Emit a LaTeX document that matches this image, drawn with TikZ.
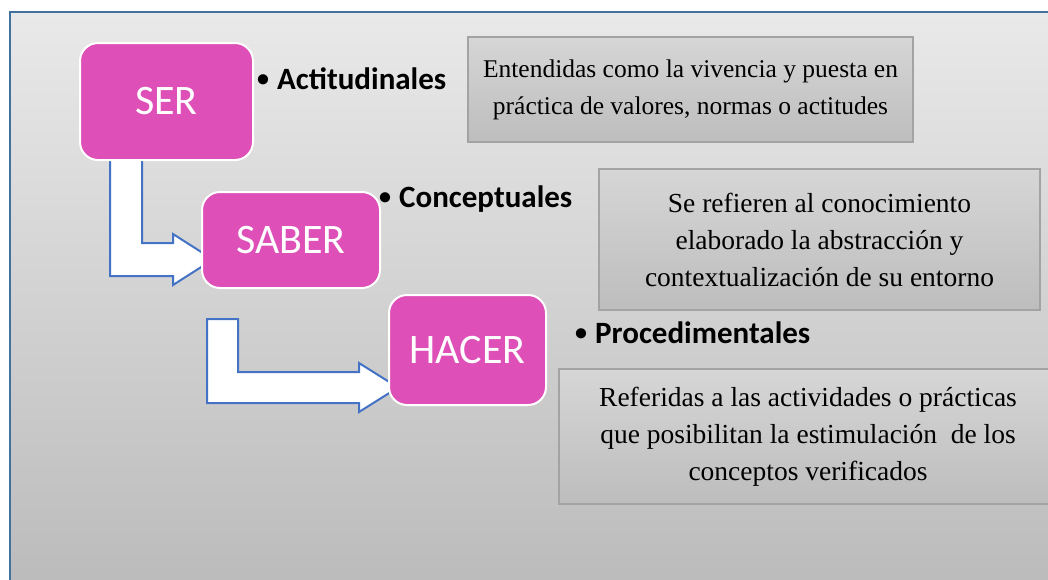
\documentclass[tikz,border=0pt]{standalone}
\usepackage{fontspec}
\setmainfont{Liberation Serif}
\newfontfamily\calibri{Carlito}
\usetikzlibrary{positioning}
\pgfdeclarelayer{backdrop}
\pgfdeclarelayer{background}
\pgfsetlayers{backdrop,background,main}

\definecolor{levelpink}{RGB}{222,80,184}
\definecolor{arrowblue}{RGB}{68,114,196}
\definecolor{frameblue}{RGB}{65,113,156}
\definecolor{frametop}{RGB}{233,233,233}
\definecolor{framebot}{RGB}{186,186,186}
\definecolor{boxtop}{RGB}{214,214,214}
\definecolor{boxbot}{RGB}{189,189,189}
\definecolor{boxline}{RGB}{163,163,163}

\newcommand{\kinddot}{\makebox[20pt][l]{\raisebox{2.5pt}{\fontsize{24}{24}\selectfont\textbullet}}}

\tikzstyle{level} = [rectangle, rounded corners=18pt, draw=white, line width=2pt, fill=levelpink, text=white, font=\calibri\fontsize{42}{50}\selectfont]
\tikzstyle{kind} = [anchor=base west, inner sep=0pt, font=\calibri\bfseries\fontsize{31}{37}\selectfont]
\tikzstyle{desc} = [rectangle, draw=boxline, line width=1.2pt, top color=boxtop, bottom color=boxbot, align=center, font=\fontsize{27.5}{37}\selectfont]
\tikzstyle{bigarrow} = [draw=arrowblue, fill=white, line width=2pt, line join=miter]

\begin{document}
\begin{tikzpicture}[x=1pt, y=-1pt]
\useasboundingbox (0,0) rectangle (1048,579);
\clip (0,0) rectangle (1048,579);

\node (ser) [level, minimum width=173pt, minimum height=117pt] at (166.5,101.5) {SER};
\node (saber) [level, minimum width=178pt, minimum height=96pt] at (291,240) {SABER};
\node (hacer) [level, minimum width=157pt, minimum height=110pt] at (467.5,350) {HACER};

\node (act) [kind] at (257,89) {\kinddot Actitudinales};
\node (con) [kind] at (379,207) {\kinddot Conceptuales};
\node (proc) [kind] at (575,343) {\kinddot Procedimentales};

\node (dact) [desc, font=\fontsize{25.5}{37}\selectfont, minimum width=445pt, minimum height=105pt] at (690.5,89.5) {Entendidas como la vivencia y puesta en\\ práctica de valores, normas o actitudes};
\node (dcon) [desc, minimum width=441pt, minimum height=141pt] at (819.5,239.5) {Se refieren al conocimiento\\ elaborado la abstracción y\\ contextualización de su entorno};
\node (dproc) [desc, minimum width=498pt, minimum height=135pt] at (808,436.5) {Referidas a las actividades o prácticas\\ que posibilitan la estimulación~ de los\\ conceptos verificados};

\begin{pgfonlayer}{backdrop}
\shade [top color=frametop, bottom color=framebot] (10,12) rectangle (1070,600);
\draw [frameblue, line width=2.5pt] (10,12) rectangle (1070,600);
\end{pgfonlayer}

% bent arrows, tips hidden under the boxes
\begin{pgfonlayer}{background}
\filldraw [bigarrow] ([xshift=63pt]ser.south west) -- ++(0,82) -- ++(31,0) -- ++(0,-9) -- ++(40,25.5) -- ++(-40,25.5) -- ++(0,-9) -- ++(-63,0) -- ([xshift=31pt]ser.south west);
\filldraw [bigarrow] ([xshift=6pt,yshift=-30pt]saber.south west) -- ++(31,0) -- ++(0,53) -- ++(121,0) -- ++(0,-9) -- ++(39,24.5) -- ++(-39,24.5) -- ++(0,-9) -- ++(-152,0) -- cycle;
\end{pgfonlayer}
\end{tikzpicture}
\end{document}
